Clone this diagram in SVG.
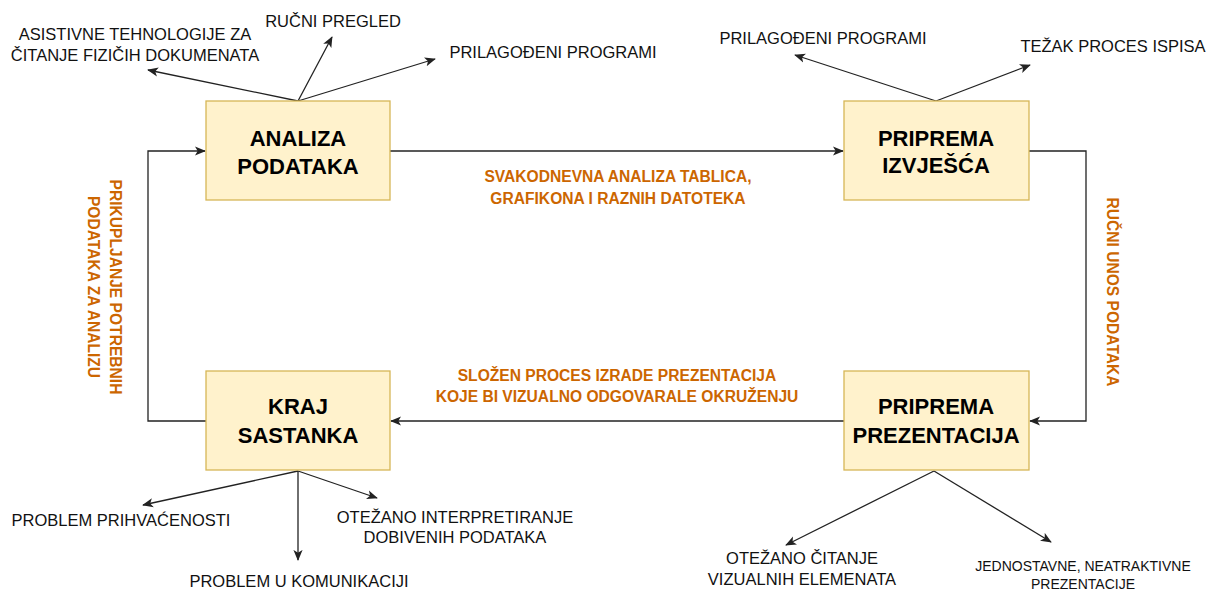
<svg xmlns="http://www.w3.org/2000/svg" width="1211" height="590" viewBox="0 0 1211 590">
<style>
.box{fill:#FFF2CC;stroke:#D6B656;stroke-width:1.3}
.bt{font-family:"Liberation Sans",Arial,sans-serif;font-weight:bold;font-size:22px;fill:#000;text-anchor:middle}
.lb{font-family:"Liberation Sans",Arial,sans-serif;font-size:16.5px;fill:#111;text-anchor:middle}
.sm{font-family:"Liberation Sans",Arial,sans-serif;font-size:14px;fill:#111;text-anchor:middle}
.or{font-family:"Liberation Sans",Arial,sans-serif;font-weight:bold;font-size:15.6px;fill:#CC6600;text-anchor:middle}
.ln{fill:none;stroke:#222;stroke-width:1.3;marker-end:url(#ah)}
</style>
<defs>
<marker id="ah" viewBox="0 0 12 10" refX="11" refY="5" markerWidth="11" markerHeight="10" orient="auto" markerUnits="userSpaceOnUse">
<path d="M0,0 L12,5 L0,10 L3,5 Z" fill="#222"/>
</marker>
</defs>
<rect width="1211" height="590" fill="#fff"/>
<g id="connectors">
<path class="ln" d="M390,151 L843,151"/>
<path class="ln" d="M1029,151 L1086,151 L1086,421 L1030,421"/>
<path class="ln" d="M844,421 L391,421"/>
<path class="ln" d="M206,421 L148,421 L148,151 L205,151"/>
<path class="ln" d="M298,101 L148,70"/>
<path class="ln" d="M298,101 L332,37"/>
<path class="ln" d="M298,101 L435,59"/>
<path class="ln" d="M936,101 L795,55"/>
<path class="ln" d="M936,101 L1030,65"/>
<path class="ln" d="M298,471 L143,505"/>
<path class="ln" d="M298,471 L298,560"/>
<path class="ln" d="M298,471 L377,498"/>
<path class="ln" d="M934,471 L786,545"/>
<path class="ln" d="M934,471 L1051,542"/>
</g>
<g id="analiza">
<rect class="box" x="206" y="101" width="184" height="99"/>
<text class="bt" x="298" y="146">ANALIZA</text>
<text class="bt" x="298" y="174">PODATAKA</text>
</g>
<g id="izvjesca">
<rect class="box" x="844" y="101" width="185" height="99"/>
<text class="bt" x="936" y="146">PRIPREMA</text>
<text class="bt" x="936" y="173">IZVJEŠĆA</text>
</g>
<g id="prezentacija">
<rect class="box" x="844" y="371" width="185" height="99"/>
<text class="bt" x="936" y="414">PRIPREMA</text>
<text class="bt" x="936" y="443">PREZENTACIJA</text>
</g>
<g id="kraj">
<rect class="box" x="206" y="371" width="184" height="99"/>
<text class="bt" x="298" y="414">KRAJ</text>
<text class="bt" x="298" y="443">SASTANKA</text>
</g>
<g id="labels">
<text class="lb" x="135" y="40">ASISTIVNE TEHNOLOGIJE ZA</text>
<text class="lb" x="135" y="61">ČITANJE FIZIČIH DOKUMENATA</text>
<text class="lb" x="333" y="27">RUČNI PREGLED</text>
<text class="lb" x="553" y="58">PRILAGOĐENI PROGRAMI</text>
<text class="lb" x="823" y="44">PRILAGOĐENI PROGRAMI</text>
<text class="lb" x="1113" y="52">TEŽAK PROCES ISPISA</text>
<text class="lb" x="121" y="526">PROBLEM PRIHVAĆENOSTI</text>
<text class="lb" x="299" y="587">PROBLEM U KOMUNIKACIJI</text>
<text class="lb" x="455" y="523">OTEŽANO INTERPRETIRANJE</text>
<text class="lb" x="455" y="543">DOBIVENIH PODATAKA</text>
<text class="lb" x="802" y="564">OTEŽANO ČITANJE</text>
<text class="lb" x="802" y="585">VIZUALNIH ELEMENATA</text>
<text class="sm" x="1083" y="571">JEDNOSTAVNE, NEATRAKTIVNE</text>
<text class="sm" x="1083" y="589">PREZENTACIJE</text>
</g>
<g id="edge-labels">
<text class="or" x="618" y="182">SVAKODNEVNA ANALIZA TABLICA,</text>
<text class="or" x="618" y="204">GRAFIKONA I RAZNIH DATOTEKA</text>
<text class="or" x="617" y="381">SLOŽEN PROCES IZRADE PREZENTACIJA</text>
<text class="or" x="617" y="402">KOJE BI VIZUALNO ODGOVARALE OKRUŽENJU</text>
<g transform="rotate(90)">
<text class="or" x="287" y="-110">PRIKUPLJANJE POTREBNIH</text>
<text class="or" x="287" y="-88">PODATAKA ZA ANALIZU</text>
<text class="or" x="292" y="-1107">RUČNI UNOS PODATAKA</text>
</g>
</g>
</svg>
